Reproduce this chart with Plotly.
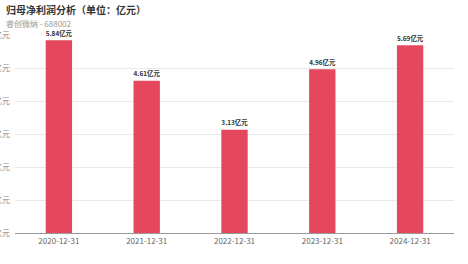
import plotly.graph_objects as go

categories = ["2020-12-31", "2021-12-31", "2022-12-31", "2023-12-31", "2024-12-31"]
values = [5.84, 4.61, 3.13, 4.96, 5.69]
labels = ["<b>5.84亿元</b>", "<b>4.61亿元</b>", "<b>3.13亿元</b>", "<b>4.96亿元</b>", "<b>5.69亿元</b>"]
yticks = [0, 1, 2, 3, 4, 5, 6]
yticktext = ["0.00亿元", "1.00亿元", "2.00亿元", "3.00亿元", "4.00亿元", "5.00亿元", "6.00亿元"]

W, H = 468, 264
L, R, T, B = 15, 14, 35, 31
pw, ph = W - L - R, H - T - B

def px(x):
    return (x - L) / pw

def py(y):
    return (H - B - y) / ph

fig = go.Figure(go.Bar(
    x=categories, y=values, text=labels, textposition="outside",
    textfont=dict(size=8, color="#333333", family="Noto Sans CJK SC"),
    marker=dict(color="#e5475d", line=dict(width=0)),
    width=0.3, cliponaxis=False,
))

fig.update_layout(
    width=W, height=H,
    margin=dict(l=L, r=R, t=T, b=B),
    plot_bgcolor="white", paper_bgcolor="white",
    showlegend=False,
    font=dict(family="Noto Sans CJK SC"),
)
fig.update_xaxes(
    type="category", showgrid=False, showline=True, linecolor="#999999", linewidth=1,
    ticks="", tickfont=dict(size=8, color="#666666"), automargin=False,
)
fig.update_yaxes(
    range=[0, 6], tickvals=yticks, ticktext=yticktext,
    showgrid=True, gridcolor="#e8e8e8", gridwidth=1, zeroline=False,
    tickfont=dict(size=8, color="#888888"), automargin=False, ticklabelstandoff=4,
)
fig.add_annotation(text="<b>归母净利润分析（单位：亿元）</b>", x=px(4), y=py(9),
                   xref="paper", yref="paper",
                   showarrow=False, xanchor="left", yanchor="middle",
                   font=dict(size=10, color="#333333"))
fig.add_annotation(text="睿创微纳 - 688002", x=px(4), y=py(23),
                   xref="paper", yref="paper",
                   showarrow=False, xanchor="left", yanchor="middle",
                   font=dict(size=8, color="#999999"))

fig.write_html("out.html")
